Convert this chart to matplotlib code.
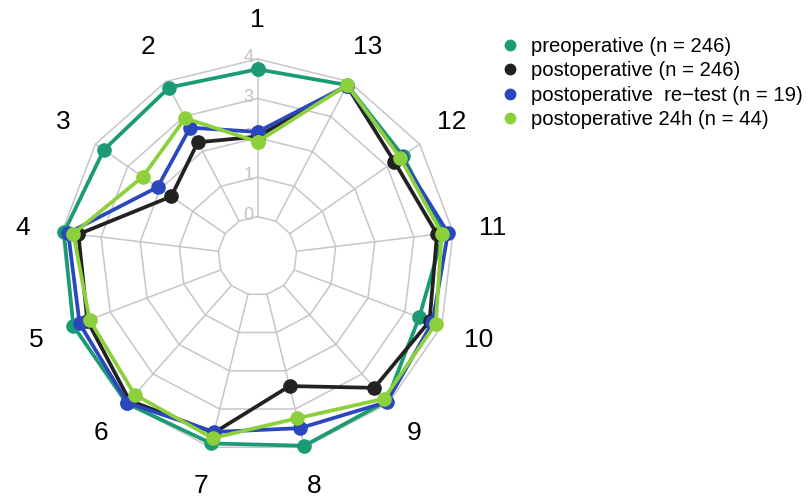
# Radar chart: scores per item, pre- vs postoperative

import numpy as np
import matplotlib.pyplot as plt
from matplotlib.lines import Line2D

items = ['1', '2', '3', '4', '5', '6', '7', '8', '9', '10', '11', '12', '13']
ring_values = [0, 1, 2, 3, 4]

preop = [3.74, 3.83, 3.74, 3.95, 4.00, 4.00, 3.90, 3.96, 3.93, 3.39, 3.75, 3.48, 3.90]
postop = [2.03, 2.26, 1.66, 3.58, 3.62, 3.90, 3.62, 2.40, 3.47, 3.67, 3.59, 3.22, 3.88]
retest = [2.15, 2.68, 2.08, 3.84, 3.83, 3.98, 3.60, 3.50, 3.95, 3.75, 3.87, 3.42, 3.88]
post24 = [1.90, 2.95, 2.54, 3.71, 3.56, 3.70, 3.76, 3.24, 3.84, 3.84, 3.71, 3.40, 3.90]

series_names = ['preoperative (n = 246)', 'postoperative (n = 246)',
                'postoperative  re\u2212test (n = 19)', 'postoperative 24h (n = 44)']
series_colors = ['#1b9b75', '#222222', '#2a47bd', '#8cd13c']

plt.rcParams['font.family'] = ['Liberation Sans', 'DejaVu Sans']

n = len(items)
angles = np.arange(n) * 2 * np.pi / n
angles_closed = np.append(angles, angles[0])

fig = plt.figure(figsize=(8.09, 4.97), dpi=100)
ax = fig.add_axes([0.0748, 0.0885, 0.487, 0.7928], projection='polar')
ax.set_theta_offset(np.pi / 2)
ax.set_theta_direction(1)
ax.set_ylim(-1, 4)
ax.set_axis_off()

grid_col = '#c6c6c6'
# polygon rings
for v in ring_values:
    ax.plot(angles_closed, [v] * (n + 1), color=grid_col, lw=1.1, zorder=1, clip_on=False)
# spokes
for a in angles:
    ax.plot([a, a], [ring_values[0], ring_values[-1]], color=grid_col, lw=1.1, zorder=1, clip_on=False)

# radial tick labels along item 1
for v in ring_values:
    ax.annotate(str(v), xy=(0, v), xytext=(-6.5, 1), textcoords='offset points',
                ha='center', va='center', fontsize=13, color='#c3c3c3', zorder=2)

# data
for vals, col in zip([preop, postop, retest, post24], series_colors):
    ax.plot(angles_closed, vals + vals[:1], color=col, lw=2.7, marker='o',
            markersize=9.5, zorder=3, clip_on=False)

# item labels
for a, lab in zip(angles, items):
    ax.text(a, 5.0, lab, ha='center', va='center', fontsize=19)

handles = [Line2D([], [], ls='none', marker='o', markersize=7.5, color=c) for c in series_colors]
fig.legend(handles, series_names, loc='upper left', bbox_to_anchor=(0.605, 0.942),
           frameon=False, fontsize=14.6, handletextpad=0.45, labelspacing=0.27,
           handlelength=1.2, borderaxespad=0)

fig.savefig('out.png', dpi=100)
